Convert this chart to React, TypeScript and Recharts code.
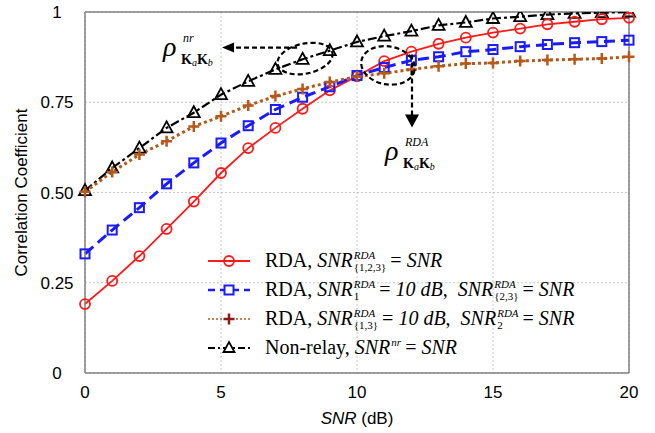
import { CartesianGrid, Label, Line, LineChart, ReferenceDot, ReferenceLine, XAxis, YAxis } from "recharts";

const snr = [0, 1, 2, 3, 4, 5, 6, 7, 8, 9, 10, 11, 12, 13, 14, 15, 16, 17, 18, 19, 20];
const rdaAll = [0.191, 0.255, 0.324, 0.399, 0.475, 0.554, 0.623, 0.679, 0.732, 0.783, 0.822, 0.864, 0.89, 0.912, 0.929, 0.943, 0.954, 0.966, 0.973, 0.98, 0.984];
const rdaFixed1 = [0.33, 0.396, 0.458, 0.524, 0.582, 0.637, 0.685, 0.73, 0.764, 0.793, 0.824, 0.846, 0.866, 0.876, 0.89, 0.896, 0.904, 0.91, 0.915, 0.918, 0.922];
const rdaFixed13 = [0.502, 0.557, 0.605, 0.642, 0.683, 0.711, 0.741, 0.767, 0.787, 0.806, 0.821, 0.83, 0.841, 0.85, 0.857, 0.859, 0.864, 0.867, 0.869, 0.871, 0.876];
const nonRelay = [0.505, 0.568, 0.623, 0.679, 0.721, 0.771, 0.808, 0.841, 0.869, 0.893, 0.917, 0.933, 0.947, 0.963, 0.971, 0.982, 0.987, 0.993, 0.996, 0.998, 1.0];

const xTicks = [0, 5, 10, 15, 20];
const yTicks = [0, 0.25, 0.5, 0.75, 1];
const yTickLabels = ["0", "0.25", "0.50", "0.75", "1"];

const data = snr.map((s, i) => ({
  snr: s,
  rdaAll: rdaAll[i],
  rdaFixed1: rdaFixed1[i],
  rdaFixed13: rdaFixed13[i],
  nonRelay: nonRelay[i],
}));

const RED = "#ff1a1a";
const BLUE = "#1a1aff";
const BROWN = "#b5591a";
const serif = "'Liberation Serif', 'Times New Roman', serif";
const sans = "'Liberation Sans', Arial, sans-serif";

const circleDot = (p: any) => (
  <circle key={`c${p.index}`} cx={p.cx} cy={p.cy} r={5} fill="none" stroke={RED} strokeWidth={1.8} />
);
const squareDot = (p: any) => (
  <rect key={`s${p.index}`} x={p.cx - 4.5} y={p.cy - 4.5} width={9} height={9} fill="none" stroke={BLUE} strokeWidth={2} />
);
const crossDot = (p: any) => (
  <path key={`p${p.index}`} d={`M${p.cx - 5.5},${p.cy}H${p.cx + 5.5}M${p.cx},${p.cy - 5.5}V${p.cy + 5.5}`} stroke={BROWN} strokeWidth={2.5} />
);
const triDot = (p: any) => (
  <path key={`t${p.index}`} d={`M${p.cx},${p.cy - 6.5}L${p.cx + 6},${p.cy + 4.5}L${p.cx - 6},${p.cy + 4.5}Z`} fill="none" stroke="#000" strokeWidth={1.8} />
);

const YTick = (p: any) => {
  const i = yTicks.indexOf(p.payload.value);
  return (
    <text x={p.x} y={p.y} dy="0.36em" textAnchor="middle" fontFamily={sans} fontSize={17} fill="#000">
      {yTickLabels[i]}
    </text>
  );
};

const Rho = ({ x, y, sup }: { x: number; y: number; sup: string }) => (
  <text fontFamily={serif} fill="#000">
    <tspan x={x} y={y} fontSize={28} fontStyle="italic">ρ</tspan>
    <tspan x={x + 20} y={y - 14} fontSize={12} fontStyle="italic">{sup}</tspan>
    <tspan x={x + 18} y={y + 8} fontSize={14} fontWeight="bold">K</tspan>
    <tspan dy={2} fontSize={10} fontStyle="italic">a</tspan>
    <tspan dy={-2} fontSize={14} fontWeight="bold">K</tspan>
    <tspan dy={2} fontSize={10} fontStyle="italic">b</tspan>
  </text>
);

const nrNote = (p: any) => (
  <g>
    <ellipse cx={p.cx} cy={p.cy} rx={28} ry={15} transform={`rotate(-12 ${p.cx} ${p.cy})`} fill="none" stroke="#000" strokeWidth={2.2} strokeDasharray="5 3" />
    <path d={`M${p.cx - 8},${p.cy - 11}H${p.cx - 72}`} stroke="#000" strokeWidth={2.2} strokeDasharray="5 3" />
    <path d={`M${p.cx - 83},${p.cy - 11}L${p.cx - 71},${p.cy - 16}L${p.cx - 71},${p.cy - 6}Z`} fill="#000" />
    <Rho x={p.cx - 142} y={p.cy - 3} sup="nr" />
  </g>
);

const rdaNote = (p: any) => (
  <g>
    <ellipse cx={p.cx} cy={p.cy} rx={27} ry={19} transform={`rotate(10 ${p.cx} ${p.cy})`} fill="none" stroke="#000" strokeWidth={2.2} strokeDasharray="5 3" />
    <path d={`M${p.cx + 24},${p.cy - 11}V${p.cy + 50}`} stroke="#000" strokeWidth={2.2} strokeDasharray="5 3" />
    <path d={`M${p.cx + 24},${p.cy + 62}L${p.cx + 17},${p.cy + 49}L${p.cx + 31},${p.cy + 49}Z`} fill="#000" />
    <Rho x={p.cx - 3} y={p.cy + 95} sup="RDA" />
  </g>
);

const Scr = ({ sup, sub }: { sup?: string; sub?: string }) => (
  <span style={{ display: "inline-flex", flexDirection: "column", verticalAlign: "8px", fontSize: 11, lineHeight: "12px", margin: "0 4px 0 1px" }}>
    <span style={{ fontStyle: "italic" }}>{sup || "\u00a0"}</span>
    <span>{sub || "\u00a0"}</span>
  </span>
);

const legendRows = [
  {
    sample: (
      <>
        <line x1={0} y1={10} x2={42} y2={10} stroke={RED} strokeWidth={1.8} />
        <circle cx={21} cy={10} r={5} fill="none" stroke={RED} strokeWidth={1.8} />
      </>
    ),
    text: (
      <>RDA, <i>SNR</i><Scr sup="RDA" sub="{1,2,3}" />= <i>SNR</i></>
    ),
  },
  {
    sample: (
      <>
        <line x1={0} y1={10} x2={42} y2={10} stroke={BLUE} strokeWidth={2.5} strokeDasharray="7 5" />
        <rect x={16.5} y={5.5} width={9} height={9} fill="#fff" stroke={BLUE} strokeWidth={2} />
      </>
    ),
    text: (
      <>RDA, <i>SNR</i><Scr sup="RDA" sub="1" />= <i>10 dB</i>,{"  "}<i>SNR</i><Scr sup="RDA" sub="{2,3}" />= <i>SNR</i></>
    ),
  },
  {
    sample: (
      <>
        <line x1={0} y1={10} x2={42} y2={10} stroke={BROWN} strokeWidth={1.5} strokeDasharray="2 2" />
        <path d="M15.5,10H26.5M21,4.5V15.5" stroke="#8b1a1a" strokeWidth={2.5} />
      </>
    ),
    text: (
      <>RDA, <i>SNR</i><Scr sup="RDA" sub="{1,3}" />= <i>10 dB</i>,{"  "}<i>SNR</i><Scr sup="RDA" sub="2" />= <i>SNR</i></>
    ),
  },
  {
    sample: (
      <>
        <line x1={0} y1={10} x2={42} y2={10} stroke="#000" strokeWidth={2} strokeDasharray="7 3 2 3" />
        <path d="M21,4L26.5,14L15.5,14Z" fill="#fff" stroke="#000" strokeWidth={1.8} />
      </>
    ),
    text: (
      <>Non-relay, <i>SNR</i><Scr sup="nr" />= <i>SNR</i></>
    ),
  },
];

export default function App() {
  return (
    <div style={{ position: "absolute", left: 0, top: 0, width: 655, height: 433, background: "#fff" }}>
      <LineChart width={655} height={433} data={data} margin={{ top: 12, right: 26, left: 0, bottom: 0 }}>
        <CartesianGrid stroke="#c8c8c8" strokeDasharray="2 2" />
        <XAxis
          dataKey="snr"
          type="number"
          domain={[0, 20]}
          ticks={xTicks}
          height={60}
          tickSize={0}
          tickMargin={13}
          stroke="#808080"
          strokeWidth={1.5}
          tick={{ fontFamily: sans, fontSize: 17, fill: "#000" }}
        >
          <Label
            content={(p: any) => (
              <text x={p.viewBox.x + p.viewBox.width / 2} y={p.viewBox.y + 51} textAnchor="middle" fontFamily={sans} fontSize={17} fill="#000">
                <tspan fontStyle="italic">SNR</tspan> (dB)
              </text>
            )}
          />
        </XAxis>
        <YAxis
          type="number"
          domain={[0, 1]}
          ticks={yTicks}
          width={85}
          tickSize={0}
          tickMargin={28}
          stroke="#808080"
          strokeWidth={1.5}
          allowDataOverflow
          tick={<YTick />}
        >
          <Label
            content={(p: any) => {
              const cy = p.viewBox.y + p.viewBox.height / 2;
              return (
                <text x={21} y={cy} transform={`rotate(-90 21 ${cy})`} textAnchor="middle" dominantBaseline="central" fontFamily={sans} fontSize={17} fill="#000">
                  Correlation Coefficient
                </text>
              );
            }}
          />
        </YAxis>
        <ReferenceLine x={20} stroke="#808080" strokeWidth={1.5} />
        <ReferenceLine y={1} stroke="#808080" strokeWidth={1.5} />
        <Line dataKey="nonRelay" stroke="#000" strokeWidth={2.2} strokeDasharray="9 3 3 3" dot={triDot} isAnimationActive={false} />
        <Line dataKey="rdaAll" stroke={RED} strokeWidth={1.8} dot={circleDot} isAnimationActive={false} />
        <Line dataKey="rdaFixed1" stroke={BLUE} strokeWidth={3} strokeDasharray="11 6" dot={squareDot} isAnimationActive={false} />
        <Line dataKey="rdaFixed13" stroke={BROWN} strokeWidth={3} strokeDasharray="3 3" dot={crossDot} isAnimationActive={false} />
        <ReferenceDot x={8.09} y={0.871} r={0} shape={nrNote} />
        <ReferenceDot x={11.14} y={0.852} r={0} shape={rdaNote} />
      </LineChart>
      <div style={{ position: "absolute", left: 208, top: 246, fontFamily: serif, fontSize: 20, color: "#000", whiteSpace: "pre" }}>
        {legendRows.map((row, i) => (
          <div key={i} style={{ height: 29, display: "flex", alignItems: "center" }}>
            <svg width={44} height={20} style={{ flex: "none" }}>{row.sample}</svg>
            <span style={{ marginLeft: 13 }}>{row.text}</span>
          </div>
        ))}
      </div>
    </div>
  );
}
